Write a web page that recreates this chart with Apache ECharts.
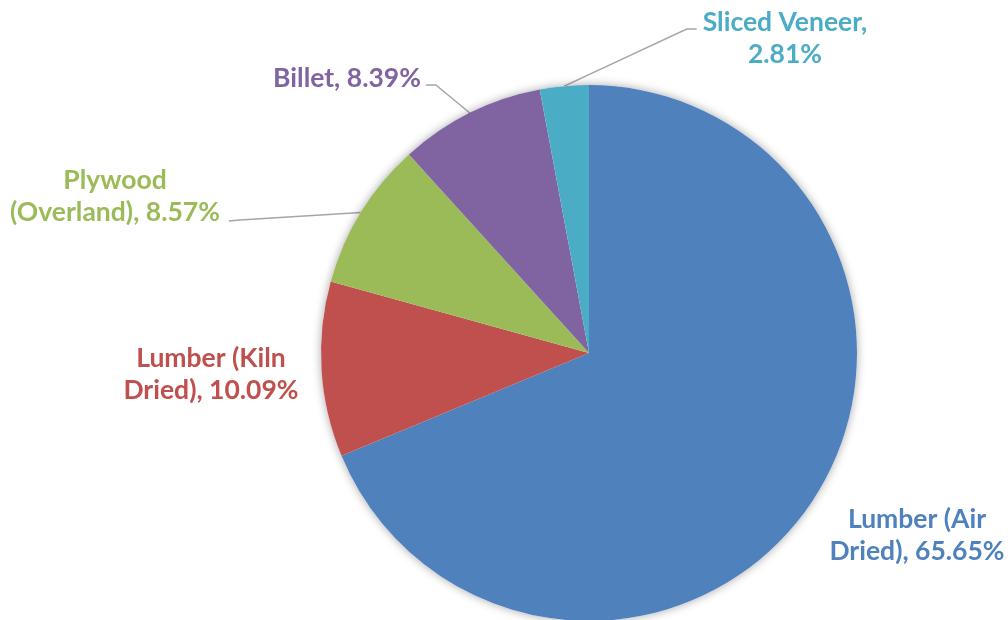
<!DOCTYPE html>
<html>
<head>
<meta charset="utf-8">
<script src="https://cdn.jsdelivr.net/npm/echarts@6/dist/echarts.min.js"></script>
<style>
    html, body { margin: 0; padding: 0; background: #fff; }
    #main { width: 1008px; height: 620px; }
</style>
</head>
<body>
<div id="main"></div>
<script>
// data
var categories = ['Lumber (Air\nDried)', 'Lumber (Kiln\nDried)', 'Plywood\n(Overland)', 'Billet', 'Sliced Veneer,\n']
var values = [65.65, 10.09, 8.57, 8.39, 2.81]
var colors = ['#4F81BD', '#C0504D', '#9BBB59', '#8064A2', '#4BACC6']

// where each label sits (centre of the text block)
var labelPos = [[917, 535], [211, 374], [115, 196], [347, 78], [785, 38]]
var showLine = [false, false, true, true, true]

var chart = echarts.init(document.getElementById('main'))

var pieData = categories.map(function (name, i) {
    return {
        name: name,
        value: values[i],
        itemStyle: { color: colors[i] },
        label: { color: colors[i] },
        labelLine: { show: showLine[i] }
    }
})

var option = {
    animation: false,
    series: [
        {
            // plain disc behind the slices, only for the soft shadow
            type: 'pie',
            silent: true,
            center: [589, 353],
            radius: 268,
            label: { show: false },
            labelLine: { show: false },
            itemStyle: {
                color: '#fff',
                shadowBlur: 10,
                shadowColor: 'rgba(0,0,0,0.35)'
            },
            data: [{ value: 1, name: 'bg' }]
        },
        {
            type: 'pie',
            center: [589, 353],
            radius: 268,
            startAngle: 90,
            clockwise: true,
            avoidLabelOverlap: false,
            itemStyle: { borderWidth: 0 },
            label: {
                show: true,
                position: 'outside',
                fontFamily: 'Lato',
                fontWeight: 'bold',
                fontSize: 26.5,
                lineHeight: 32,
                formatter: function (p) {
                    var sep = p.name.slice(-1) == '\n' ? '' : ', '
                    return p.name + sep + p.value.toFixed(2) + '%'
                }
            },
            labelLine: {
                lineStyle: { color: '#a6a6a6', width: 1.5 }
            },
            labelLayout: function (params) {
                var i = params.dataIndex
                var pos = labelPos[i]
                var w = params.labelRect.width
                var out = { x: pos[0], y: pos[1], align: 'center', verticalAlign: 'middle' }
                if (params.labelLinePoints) {
                    var p0 = params.labelLinePoints[0]
                    var left = pos[0] - w / 2
                    var right = pos[0] + w / 2
                    if (i == 2) {
                        out.labelLinePoints = [p0, [right + 20, pos[1] + 24], [right + 9, pos[1] + 25]]
                    } else if (i == 3) {
                        out.labelLinePoints = [p0, [right + 15, pos[1] + 7], [right + 5, pos[1] + 7]]
                    } else if (i == 4) {
                        out.labelLinePoints = [p0, [left - 16, pos[1] - 9], [left - 6, pos[1] - 9]]
                    }
                }
                return out
            },
            data: pieData
        }
    ]
}

chart.setOption(option)
</script>
</body>
</html>
